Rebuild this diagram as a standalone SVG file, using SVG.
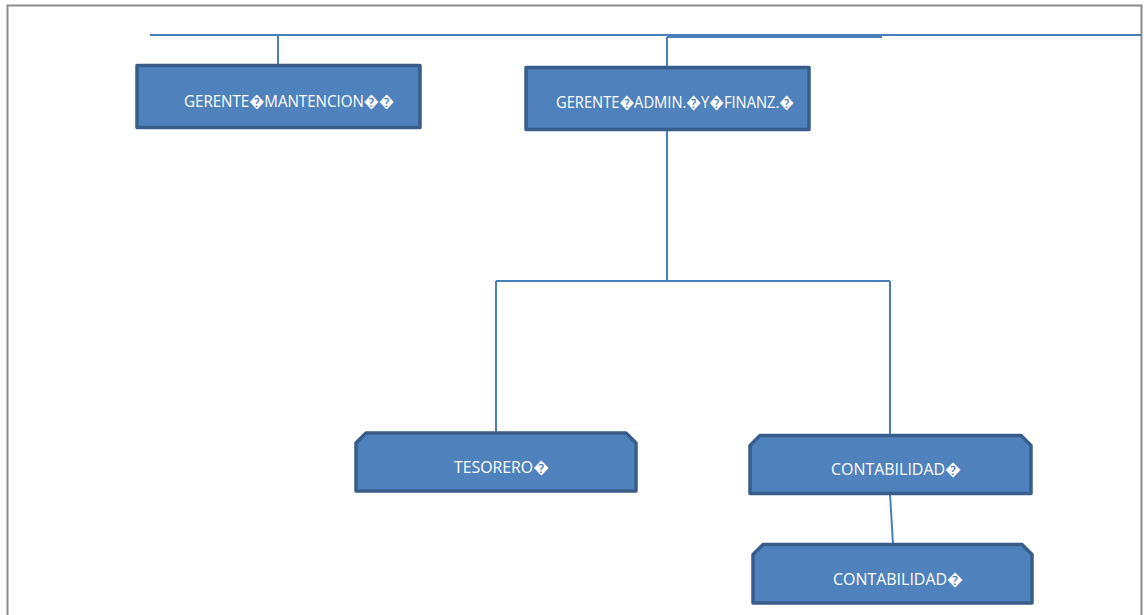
<svg xmlns="http://www.w3.org/2000/svg" width="1144" height="615" viewBox="0 0 1144 615">
  <style>
    .box { fill: #4F81BD; stroke: #385D8A; stroke-width: 3.5; stroke-linejoin: round; }
    .wire { fill: none; stroke: #4A7EBB; stroke-width: 2; }
    .label { font-family: "Open Sans", "Liberation Sans", sans-serif; font-size: 16.5px; fill: #FFFFFF; }
  </style>
  <rect width="1144" height="615" fill="#FFFFFF"/>
  <!-- page frame -->
  <path d="M7.5 615 V5.5 H1141.5 V615" fill="none" stroke="#8C8C8C" stroke-width="2"/>

  <g id="connectors">
    <line class="wire" x1="150" y1="35" x2="1141" y2="35"/>
    <line class="wire" x1="667" y1="37" x2="882" y2="37" stroke-width="3"/>
    <line class="wire" x1="278" y1="35" x2="278" y2="65"/>
    <line class="wire" x1="667" y1="37" x2="667" y2="67"/>
    <line class="wire" x1="667" y1="130" x2="667" y2="281"/>
    <line class="wire" x1="496" y1="281" x2="890" y2="281"/>
    <line class="wire" x1="496" y1="281" x2="496" y2="433"/>
    <line class="wire" x1="890" y1="281" x2="890" y2="435"/>
    <line class="wire" x1="890" y1="494" x2="893" y2="544"/>
  </g>

  <g id="gerente-mantencion">
    <rect class="box" x="137" y="65.5" width="283" height="62"/>
    <text class="label" x="184" y="107" textLength="210" lengthAdjust="spacingAndGlyphs">GERENTE�MANTENCION��</text>
  </g>

  <g id="gerente-admin-finanz">
    <rect class="box" x="526" y="67.5" width="283" height="62"/>
    <text class="label" x="556" y="108" textLength="238" lengthAdjust="spacingAndGlyphs">GERENTE�ADMIN.�Y�FINANZ.�</text>
  </g>

  <g id="tesorero">
    <path class="box" d="M366 433 H626 L636 443 V491 H356 V443 Z"/>
    <text class="label" x="454" y="473" textLength="95" lengthAdjust="spacingAndGlyphs">TESORERO�</text>
  </g>

  <g id="contabilidad-1">
    <path class="box" d="M760 435.5 H1021 L1031 445.5 V493.5 H750 V445.5 Z"/>
    <text class="label" x="831" y="475" textLength="130" lengthAdjust="spacingAndGlyphs">CONTABILIDAD�</text>
  </g>

  <g id="contabilidad-2">
    <path class="box" d="M763 544.5 H1022 L1032 554.5 V603 H753 V554.5 Z"/>
    <text class="label" x="833" y="585" textLength="130" lengthAdjust="spacingAndGlyphs">CONTABILIDAD�</text>
  </g>
</svg>
